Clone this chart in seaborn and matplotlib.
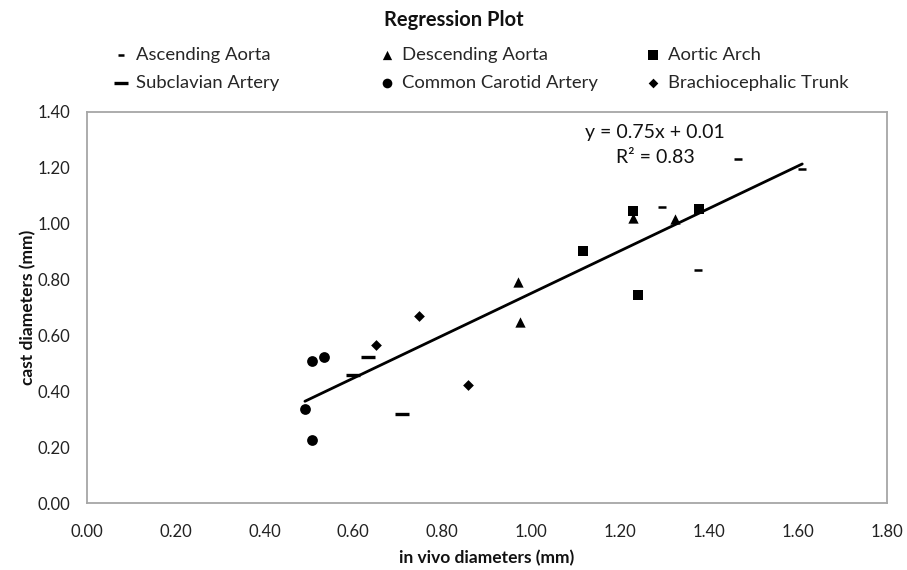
import matplotlib
matplotlib.use("Agg")
import matplotlib.pyplot as plt
import seaborn as sns
import numpy as np
import pandas as pd

# ---- data ----
asc_x = [1.294, 1.465, 1.610, 1.375]
asc_y = [1.059, 1.232, 1.196, 0.834]
sub_x = [0.632, 0.599, 0.710]
sub_y = [0.523, 0.458, 0.320]
desc_x = [0.971, 0.976, 1.230, 1.324]
desc_y = [0.792, 0.647, 1.022, 1.017]
cca_x = [0.506, 0.535, 0.491, 0.506]
cca_y = [0.509, 0.522, 0.335, 0.226]
arch_x = [1.116, 1.240, 1.230, 1.378]
arch_y = [0.903, 0.744, 1.047, 1.052]
bct_x = [0.651, 0.748, 0.859]
bct_y = [0.567, 0.670, 0.421]

series_names = ["Ascending Aorta", "Subclavian Artery", "Descending Aorta",
                "Common Carotid Artery", "Aortic Arch", "Brachiocephalic Trunk"]
series_x = [asc_x, sub_x, desc_x, cca_x, arch_x, bct_x]
series_y = [asc_y, sub_y, desc_y, cca_y, arch_y, bct_y]

x_ticks = [0.00, 0.20, 0.40, 0.60, 0.80, 1.00, 1.20, 1.40, 1.60, 1.80]
y_ticks = [0.00, 0.20, 0.40, 0.60, 0.80, 1.00, 1.20, 1.40]
eq_text = "y = 0.75x + 0.01"
r2_text = "R² = 0.83"

# ---- style ----
sns.set_style("white")
FONT = ["Lato", "DejaVu Sans"]
plt.rcParams["font.family"] = FONT

styles = {
    "Ascending Aorta": dict(marker="_", s=30, linewidth=1.8),
    "Subclavian Artery": dict(marker="_", s=110, linewidth=2.4),
    "Descending Aorta": dict(marker="^", s=55, linewidth=0),
    "Common Carotid Artery": dict(marker="o", s=60, linewidth=0),
    "Aortic Arch": dict(marker="s", s=55, linewidth=0),
    "Brachiocephalic Trunk": dict(marker="D", s=30, linewidth=0),
}

fig = plt.figure(figsize=(9.07, 5.70), dpi=100)
ax = fig.add_axes([86.7 / 907, 1 - 503 / 570, 800 / 907, 391 / 570])

frames = []
for name, xs, ys in zip(series_names, series_x, series_y):
    df = pd.DataFrame({"x": xs, "y": ys})
    frames.append(df)
    st = styles[name]
    sns.scatterplot(data=df, x="x", y="y", ax=ax, color="black",
                    marker=st["marker"], s=st["s"], linewidth=st["linewidth"],
                    edgecolor="black", label=name, zorder=3)

all_df = pd.concat(frames, ignore_index=True)
sns.regplot(data=all_df, x="x", y="y", ax=ax, scatter=False, ci=None,
            truncate=True, color="black", line_kws=dict(linewidth=2.0))

ax.set_xlim(0, 1.8)
ax.set_ylim(0, 1.4)
ax.set_xticks(x_ticks)
ax.set_yticks(y_ticks)
ax.set_xticklabels([f"{v:.2f}" for v in x_ticks])
ax.set_yticklabels([f"{v:.2f}" for v in y_ticks])
ax.tick_params(axis="both", labelsize=12, labelcolor="#222222", length=4,
               width=1, direction="out", color="#b0b0b0")
ax.tick_params(axis="x", pad=11)
ax.tick_params(axis="y", pad=8)
for sp in ax.spines.values():
    sp.set_color("#a6a6a6")
    sp.set_linewidth(1.3)

ax.set_xlabel("in vivo diameters (mm)", fontsize=12.5, fontweight="bold",
              color="#111111", labelpad=7)
ax.set_ylabel("cast diameters (mm)", fontsize=12.5, fontweight="bold",
              color="#111111", labelpad=1)

ax.text(1.279, 1.325, eq_text, ha="center", va="center", fontsize=14, color="#111111")
ax.text(1.279, 1.236, r2_text, ha="center", va="center", fontsize=14, color="#111111")

if ax.get_legend() is not None:
    ax.get_legend().remove()

handles, labels = ax.get_legend_handles_labels()
hmap = dict(zip(labels, handles))
col_groups = [["Ascending Aorta", "Subclavian Artery"],
              ["Descending Aorta", "Common Carotid Artery"],
              ["Aortic Arch", "Brachiocephalic Trunk"]]
col_x = [115 / 907, 381 / 907, 647 / 907]
for cx, grp in zip(col_x, col_groups):
    fig.legend([hmap[g] for g in grp], grp, loc="upper left",
               bbox_to_anchor=(cx, 1 - 47 / 570), frameon=False, fontsize=13.3,
               handlelength=0.7, handletextpad=0.45, labelspacing=0.66,
               borderpad=0, borderaxespad=0, markerscale=0.9)

fig.text(454 / 907, 1 - 20 / 570, "Regression Plot", ha="center", va="center",
         fontsize=14.5, fontweight="bold", color="#111111")

fig.savefig("out.png", dpi=100, facecolor="white")
